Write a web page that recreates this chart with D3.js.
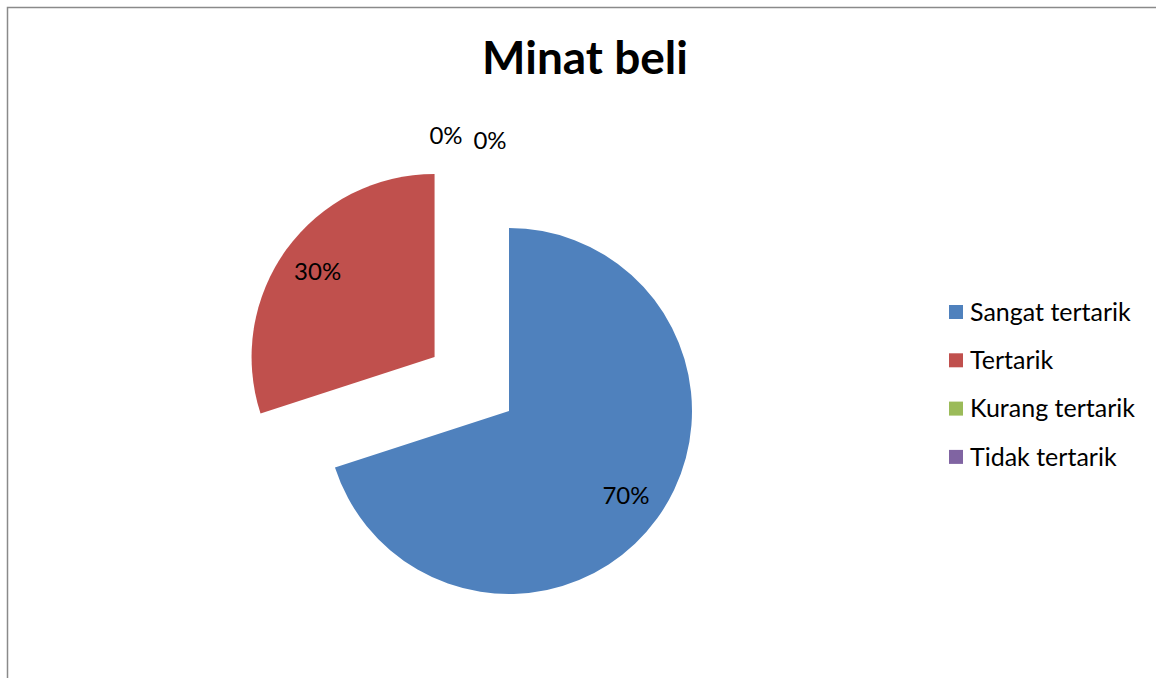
<!DOCTYPE html>
<html><head><meta charset="utf-8">
<script src="https://cdn.jsdelivr.net/npm/d3@7"></script>
<style>html,body{margin:0;padding:0;background:#fff;}svg{display:block;}</style>
</head><body>
<svg id="c" width="1156" height="678"></svg>
<script>
const categories = ["Sangat tertarik", "Tertarik", "Kurang tertarik", "Tidak tertarik"];
const values = [70, 30, 0, 0];
const explode = [0, 92, 0, 0];
const colors = ["#4F81BD", "#C0504D", "#9BBB59", "#8064A2"];
const title = "Minat beli";

const svg = d3.select("#c");
const font = "Lato, Open Sans, sans-serif";

// frame
svg.append("path").attr("d", "M7.5,678 L7.5,7.5 L1156,7.5")
  .attr("fill", "none").attr("stroke", "#8a8a8a").attr("stroke-width", 1.5);

svg.append("text").attr("x", 585).attr("y", 74).attr("text-anchor", "middle")
  .attr("font-family", font).attr("font-weight", "bold").attr("font-size", 46)
  .attr("fill", "#000").text(title);

const cx = 509, cy = 411, r = 183;
const total = d3.sum(values);
const pie = d3.pie().sort(null).value(d => d)(values);
const arc = d3.arc().innerRadius(0).outerRadius(r);
const g = svg.append("g").attr("transform", `translate(${cx},${cy})`);

pie.forEach((p, i) => {
  const mid = (p.startAngle + p.endAngle) / 2;
  const dx = Math.sin(mid) * explode[i], dy = -Math.cos(mid) * explode[i];
  const sg = g.append("g").attr("transform", `translate(${dx},${dy})`);
  if (p.endAngle > p.startAngle) {
    sg.append("path").attr("d", arc(p)).attr("fill", colors[i]);
  }
});

// data labels
const zeroOffsets = [[-63, 0], [-19, 5]];
let zi = 0;
pie.forEach((p, i) => {
  const pct = Math.round(values[i] / total * 100) + "%";
  let x, y;
  if (p.endAngle > p.startAngle) {
    const mid = (p.startAngle + p.endAngle) / 2;
    const d = explode[i] + r * 0.79;
    x = Math.sin(mid) * d; y = -Math.cos(mid) * d;
  } else {
    const o = zeroOffsets[zi++];
    x = Math.sin(p.startAngle) * (r + 92) + o[0];
    y = -Math.cos(p.startAngle) * (r + 92) + o[1];
  }
  g.append("text").attr("x", x).attr("y", y).attr("dy", "0.35em")
    .attr("text-anchor", "middle").attr("font-family", font).attr("font-size", 24)
    .attr("fill", "#000").text(pct);
});

// legend
const leg = svg.append("g").attr("transform", "translate(949,312)");
categories.forEach((c, i) => {
  const row = leg.append("g").attr("transform", `translate(0,${i * 48.3})`);
  row.append("rect").attr("x", 0).attr("y", -7).attr("width", 14).attr("height", 14).attr("fill", colors[i]);
  row.append("text").attr("x", 21).attr("y", 0).attr("dy", "0.35em")
    .attr("font-family", font).attr("font-size", 25).attr("fill", "#000").text(c);
});
</script>
</body></html>
